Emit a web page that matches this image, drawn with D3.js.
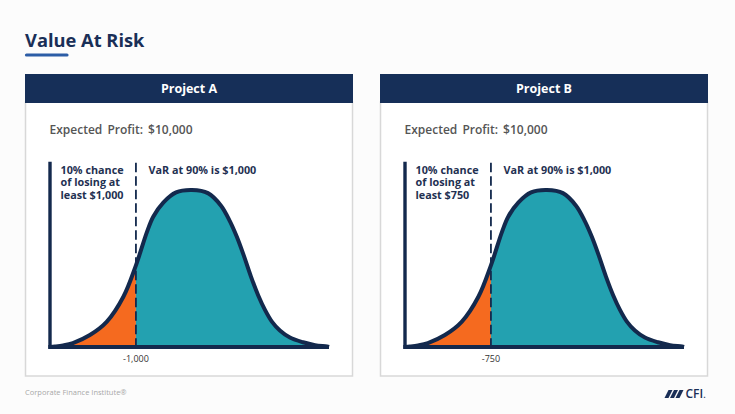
<!DOCTYPE html>
<html><head><meta charset="utf-8">
<script src="https://cdn.jsdelivr.net/npm/d3@7"></script>
<style>
html,body{margin:0;padding:0;background:#fcfcfc;}
svg{display:block;font-family:"Open Sans",sans-serif;}
</style></head>
<body><svg id="c" width="735" height="414"></svg>
<script>
// ---- data ----
const chartTitle = "Value At Risk";
const projects = ["Project A", "Project B"];
const expectedProfit = ["Expected Profit: $10,000", "Expected Profit: $10,000"];
const varStatement = ["VaR at 90% is $1,000", "VaR at 90% is $1,000"];
const chanceLines = [["10% chance", "of losing at", "least $1,000"], ["10% chance", "of losing at", "least $750"]];
const varTickLabels = ["-1,000", "-750"];
const varPosition = 30.8; // position of the 90% cut-off on the outcome axis (0-100)
// distribution curve: outcome position (0-100) and density (0-100)
const curveU = [0, 1.8, 4.7, 8.2, 14.3, 20.3, 26.3, 30.8, 34.7, 37.0, 40.6, 45.2, 50.9, 56.6, 61.3, 64.5, 67.0, 69.5, 72.0, 74.6, 77.1, 79.6, 82.4, 86.0, 90.7, 95.0, 99.3, 100];
const curveV = [0, 0.3, 1.0, 2.5, 7.6, 16, 32, 52, 73, 83, 92, 98.5, 100, 98, 90, 80, 70, 58, 45, 33, 23.5, 16, 10.5, 6, 3, 1.2, 0.3, 0];
const axisTop = 118; // density value at top of vertical axis
const footerText = "Corporate Finance Institute®";

const navy = "#162f58", lineNavy = "#13294d", teal = "#23a1b0", orange = "#f56a1f";
const svg = d3.select("#c");

// title
svg.append("text").attr("x", 25).attr("y", 47).text(chartTitle)
  .attr("font-size", 18.3).attr("font-weight", 700).attr("fill", "#1a2f57");
svg.append("line").attr("x1", 26.5).attr("x2", 67).attr("y1", 55).attr("y2", 55)
  .attr("stroke", "#2c5da6").attr("stroke-width", 3.2).attr("stroke-linecap", "round");

const pts = curveU.map((u, i) => ({u, v: curveV[i]}));
const iVar = curveU.indexOf(varPosition);

projects.forEach((name, p) => {
  const ox = 25 + p * 355;
  const g = svg.append("g");
  // panel
  g.append("rect").attr("x", ox + 0.5).attr("y", 102).attr("width", 327).attr("height", 274)
    .attr("fill", "#fff").attr("stroke", "#d8d8d8").attr("stroke-width", 1.5);
  g.append("rect").attr("x", ox).attr("y", 74).attr("width", 328).attr("height", 29).attr("fill", navy);
  g.append("text").attr("x", ox + 164).attr("y", 92.5).attr("text-anchor", "middle")
    .attr("font-size", 12.5).attr("font-weight", 700).attr("fill", "#fff").text(name);
  g.append("text").attr("x", ox + 24.5).attr("y", 133.5).attr("font-size", 12).attr("font-weight", 600)
    .attr("fill", "#555").attr("word-spacing", 2).text(expectedProfit[p]);

  const x = d3.scaleLinear().domain([0, 100]).range([ox + 25, ox + 304]);
  const y = d3.scaleLinear().domain([0, 100]).range([347, 190]);

  const crv = d3.curveCatmullRom.alpha(0.5);
  const area = d3.area().x(d => x(d.u)).y0(y(0)).y1(d => y(Math.max(0, d.v))).curve(crv);
  const line = d3.line().x(d => x(d.u)).y(d => y(d.v)).curve(crv);

  g.append("path").datum(pts.slice(0, iVar + 1)).attr("d", area).attr("fill", orange);
  g.append("path").datum(pts.slice(iVar)).attr("d", area).attr("fill", teal);
  g.append("path").datum(pts).attr("d", line).attr("fill", "none")
    .attr("stroke", lineNavy).attr("stroke-width", 4).attr("stroke-linejoin", "round");

  // dashed VaR line
  g.append("line").attr("x1", x(varPosition)).attr("x2", x(varPosition))
    .attr("y1", y(axisTop) + 1).attr("y2", y(0))
    .attr("stroke", lineNavy).attr("stroke-width", 1.8).attr("stroke-dasharray", "9.5,4");

  // axes
  g.append("line").attr("x1", x(0)).attr("x2", x(0)).attr("y1", y(axisTop)).attr("y2", y(0) + 1.8)
    .attr("stroke", lineNavy).attr("stroke-width", 3.4);
  g.append("line").attr("x1", x(0) - 1.7).attr("x2", x(100)).attr("y1", y(0)).attr("y2", y(0))
    .attr("stroke", lineNavy).attr("stroke-width", 3.8);

  // labels (multi-line note as one text element)
  const note = g.append("text").attr("x", ox + 35.5).attr("y", 173.5).attr("font-size", 10.8)
    .attr("font-weight", 700).attr("fill", "#1f3152");
  chanceLines[p].forEach((t, i) => {
    note.append("tspan").attr("x", ox + 35.5).attr("dy", i === 0 ? 0 : 12.6).text(t);
  });
  g.append("text").attr("x", ox + 123.5).attr("y", 173.5).attr("font-size", 10.8)
    .attr("font-weight", 700).attr("fill", "#1f3152").text(varStatement[p]);
  g.append("text").attr("x", x(varPosition)).attr("y", 362).attr("text-anchor", "middle")
    .attr("font-size", 9).attr("fill", "#333").text(varTickLabels[p]);
});

// footer
svg.append("text").attr("x", 25).attr("y", 395).attr("font-size", 7.5).attr("fill", "#a8a8a8").text(footerText);
const logo = svg.append("g").attr("fill", "#1a2f57");
[0, 5.5, 11].forEach(dx => {
  logo.append("path").attr("d", `M${664.5 + dx},398 L${668.5 + dx},398 L${672.5 + dx},390 L${668.5 + dx},390 Z`);
});
const lt = logo.append("text").attr("x", 685.5).attr("y", 398).attr("font-size", 12).attr("font-weight", 600).text("CFI");
lt.append("tspan").attr("font-size", 9).text(".");
</script></body></html>
